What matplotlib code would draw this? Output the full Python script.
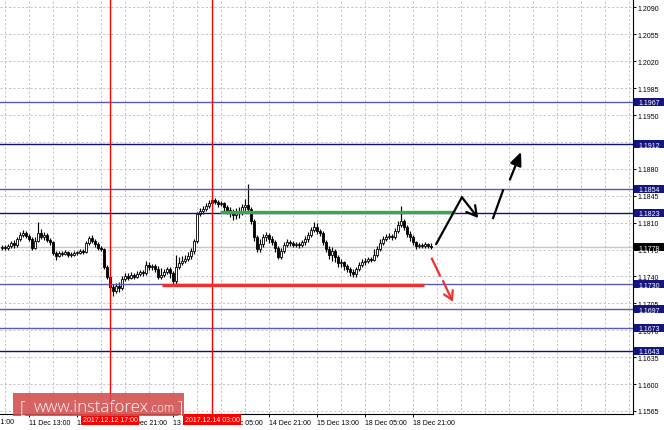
import matplotlib
matplotlib.use("Agg")
import matplotlib.pyplot as plt
from matplotlib.patches import Rectangle
from matplotlib.transforms import blended_transform_factory

plt.rcParams['font.family'] = ['Liberation Sans', 'DejaVu Sans']

# ---------------- data (EURUSD H1) ----------------
opens = [1.1777, 1.1778, 1.1777, 1.1780, 1.1784, 1.1781, 1.1789, 1.1794, 1.1797, 1.1793,
         1.1789, 1.1777, 1.1786, 1.1797, 1.1791, 1.1794, 1.1788, 1.1785, 1.1771, 1.1767,
         1.1771, 1.1769, 1.1772, 1.1768, 1.1768, 1.1771, 1.1771, 1.1773, 1.1772, 1.1784,
         1.1790, 1.1786, 1.1782, 1.1777, 1.1776, 1.1752, 1.1739, 1.1726, 1.1721, 1.1728,
         1.1725, 1.1737, 1.1741, 1.1738, 1.1742, 1.1739, 1.1743, 1.1746, 1.1745, 1.1755,
         1.1752, 1.1754, 1.1750, 1.1739, 1.1742, 1.1746, 1.1750, 1.1745, 1.1734, 1.1752,
         1.1758, 1.1760, 1.1763, 1.1767, 1.1773, 1.1786, 1.1821, 1.1825, 1.1828, 1.1832,
         1.1836, 1.1840, 1.1837, 1.1834, 1.1836, 1.1830, 1.1827, 1.1824, 1.1820, 1.1825,
         1.1823, 1.1830, 1.1833, 1.1828, 1.1812, 1.1791, 1.1776, 1.1782, 1.1791, 1.1794,
         1.1789, 1.1785, 1.1777, 1.1765, 1.1773, 1.1781, 1.1785, 1.1784, 1.1781, 1.1782,
         1.1781, 1.1785, 1.1789, 1.1794, 1.1801, 1.1804, 1.1799, 1.1797, 1.1785, 1.1776,
         1.1768, 1.1773, 1.1765, 1.1758, 1.1759, 1.1754, 1.1750, 1.1746, 1.1743, 1.1750,
         1.1755, 1.1759, 1.1760, 1.1763, 1.1762, 1.1768, 1.1776, 1.1784, 1.1789, 1.1791,
         1.1793, 1.1791, 1.1799, 1.1807, 1.1812, 1.1804, 1.1795, 1.1791, 1.1785, 1.1780,
         1.1781, 1.1780, 1.1782, 1.1780]

highs = [1.1781, 1.1781, 1.1782, 1.1786, 1.1788, 1.1791, 1.1798, 1.1801, 1.1799, 1.1795,
         1.1791, 1.1791, 1.1811, 1.1802, 1.1798, 1.1797, 1.1790, 1.1786, 1.1773, 1.1773,
         1.1773, 1.1775, 1.1773, 1.1772, 1.1773, 1.1773, 1.1776, 1.1776, 1.1786, 1.1793,
         1.1794, 1.1789, 1.1785, 1.1780, 1.1777, 1.1755, 1.1742, 1.1730, 1.1732, 1.1733,
         1.1741, 1.1745, 1.1745, 1.1746, 1.1745, 1.1747, 1.1749, 1.1749, 1.1760, 1.1759,
         1.1756, 1.1756, 1.1754, 1.1751, 1.1750, 1.1752, 1.1752, 1.1747, 1.1768, 1.1765,
         1.1767, 1.1768, 1.1772, 1.1777, 1.1789, 1.1824, 1.1829, 1.1832, 1.1836, 1.1840,
         1.1842, 1.1842, 1.1840, 1.1838, 1.1837, 1.1833, 1.1830, 1.1828, 1.1829, 1.1830,
         1.1834, 1.1841, 1.1860, 1.1830, 1.1815, 1.1794, 1.1789, 1.1795, 1.1798, 1.1797,
         1.1793, 1.1788, 1.1780, 1.1777, 1.1785, 1.1789, 1.1788, 1.1786, 1.1785, 1.1785,
         1.1788, 1.1793, 1.1798, 1.1804, 1.1811, 1.1810, 1.1802, 1.1799, 1.1788, 1.1780,
         1.1778, 1.1776, 1.1768, 1.1763, 1.1760, 1.1756, 1.1752, 1.1750, 1.1752, 1.1759,
         1.1763, 1.1764, 1.1765, 1.1765, 1.1776, 1.1780, 1.1789, 1.1793, 1.1795, 1.1797,
         1.1795, 1.1803, 1.1812, 1.1832, 1.1815, 1.1807, 1.1799, 1.1794, 1.1786, 1.1784,
         1.1784, 1.1785, 1.1784, 1.1784]

lows = [1.1775, 1.1775, 1.1775, 1.1777, 1.1777, 1.1778, 1.1786, 1.1791, 1.1790, 1.1786,
        1.1775, 1.1776, 1.1785, 1.1789, 1.1788, 1.1785, 1.1781, 1.1768, 1.1762, 1.1765,
        1.1767, 1.1768, 1.1765, 1.1765, 1.1767, 1.1768, 1.1769, 1.1769, 1.1771, 1.1781,
        1.1784, 1.1778, 1.1775, 1.1773, 1.1750, 1.1737, 1.1721, 1.1715, 1.1719, 1.1720,
        1.1723, 1.1734, 1.1736, 1.1737, 1.1737, 1.1738, 1.1741, 1.1741, 1.1742, 1.1749,
        1.1749, 1.1746, 1.1737, 1.1737, 1.1739, 1.1743, 1.1738, 1.1730, 1.1728, 1.1750,
        1.1755, 1.1758, 1.1760, 1.1763, 1.1769, 1.1784, 1.1819, 1.1821, 1.1825, 1.1829,
        1.1833, 1.1834, 1.1830, 1.1832, 1.1825, 1.1821, 1.1817, 1.1814, 1.1815, 1.1816,
        1.1820, 1.1825, 1.1825, 1.1808, 1.1786, 1.1772, 1.1772, 1.1778, 1.1786, 1.1784,
        1.1781, 1.1772, 1.1763, 1.1763, 1.1771, 1.1778, 1.1780, 1.1778, 1.1778, 1.1777,
        1.1778, 1.1781, 1.1785, 1.1791, 1.1798, 1.1795, 1.1793, 1.1781, 1.1772, 1.1763,
        1.1760, 1.1759, 1.1752, 1.1752, 1.1749, 1.1746, 1.1741, 1.1739, 1.1739, 1.1747,
        1.1752, 1.1755, 1.1758, 1.1759, 1.1760, 1.1765, 1.1773, 1.1781, 1.1786, 1.1789,
        1.1788, 1.1789, 1.1797, 1.1804, 1.1801, 1.1791, 1.1786, 1.1781, 1.1776, 1.1777,
        1.1777, 1.1777, 1.1777, 1.1776]

closes = [1.1778, 1.1777, 1.1780, 1.1784, 1.1781, 1.1789, 1.1794, 1.1797, 1.1793, 1.1789,
          1.1777, 1.1786, 1.1797, 1.1791, 1.1794, 1.1788, 1.1785, 1.1771, 1.1767, 1.1771,
          1.1769, 1.1772, 1.1768, 1.1768, 1.1771, 1.1771, 1.1773, 1.1772, 1.1784, 1.1790,
          1.1786, 1.1782, 1.1777, 1.1776, 1.1752, 1.1739, 1.1726, 1.1721, 1.1728, 1.1725,
          1.1737, 1.1741, 1.1738, 1.1742, 1.1739, 1.1743, 1.1746, 1.1745, 1.1755, 1.1752,
          1.1754, 1.1750, 1.1739, 1.1742, 1.1746, 1.1750, 1.1745, 1.1734, 1.1752, 1.1758,
          1.1760, 1.1763, 1.1767, 1.1773, 1.1786, 1.1821, 1.1825, 1.1828, 1.1832, 1.1836,
          1.1840, 1.1837, 1.1834, 1.1836, 1.1830, 1.1827, 1.1824, 1.1820, 1.1825, 1.1823,
          1.1830, 1.1833, 1.1828, 1.1812, 1.1791, 1.1776, 1.1782, 1.1791, 1.1794, 1.1789,
          1.1785, 1.1777, 1.1765, 1.1773, 1.1781, 1.1785, 1.1784, 1.1781, 1.1782, 1.1781,
          1.1785, 1.1789, 1.1794, 1.1801, 1.1804, 1.1799, 1.1797, 1.1785, 1.1776, 1.1768,
          1.1773, 1.1765, 1.1758, 1.1759, 1.1754, 1.1750, 1.1746, 1.1743, 1.1750, 1.1755,
          1.1759, 1.1760, 1.1763, 1.1762, 1.1768, 1.1776, 1.1784, 1.1789, 1.1791, 1.1793,
          1.1791, 1.1799, 1.1807, 1.1812, 1.1804, 1.1795, 1.1791, 1.1785, 1.1780, 1.1781,
          1.1780, 1.1782, 1.1780, 1.1778]

time_tick_bars = [-7, 9, 25, 41, 57, 73, 89, 105, 121, 137]
time_tick_labels = ["8 Dec 21:00", "11 Dec 13:00", "12 Dec 05:00", "12 Dec 21:00",
                    "13 Dec 13:00", "14 Dec 05:00", "14 Dec 21:00", "15 Dec 13:00",
                    "18 Dec 05:00", "18 Dec 21:00"]

price_ticks = [1.1565, 1.1600, 1.1635, 1.1670, 1.1705, 1.1740, 1.1775, 1.1810,
               1.1845, 1.1880, 1.1915, 1.1950, 1.1985, 1.2020, 1.2055, 1.2090]

levels = [1.1967, 1.1912, 1.1854, 1.1823, 1.1730, 1.1697, 1.1673, 1.1643]
level_dark = [False, True, False, True, False, False, False, True]
current_price = 1.1778

vline_bars = [36, 70]
vline_labels = ["2017.12.12 17:00", "2017.12.14 03:00"]

green_seg_bars = [72.7, 151.0]
green_seg_price = 1.1824
red_seg_bars = [53.3, 140.7]
red_seg_price = 1.1729

bull_path_bars = [144.7, 153.3, 158.7]
bull_path_prices = [1.1782, 1.1843, 1.1816]
bull2_bars = [163.7, 167.0, 169.3, 173.0]
bull2_prices = [1.1816, 1.1852, 1.1866, 1.1902]
bear_bars = [143.3, 146.0, 147.0, 150.3]
bear_prices = [1.1763, 1.1741, 1.1734, 1.1707]

# ---------------- figure ----------------
W, H = 664, 431
fig = plt.figure(figsize=(W / 100, H / 100), dpi=100)
fig.patch.set_facecolor('white')
AX_W, AX_H = 633, 415
ax = fig.add_axes([0, (H - AX_H) / H, AX_W / W, AX_H / H])
ax.set_facecolor('white')

y0, y1 = 1.1561, 1.2101
x0, x1 = -0.667, 210.33
px_y = (y1 - y0) / AX_H
px_x = (x1 - x0) / AX_W

# axes / grid (ticks first, limits after so they are not expanded)
ax.yaxis.tick_right()
ax.set_yticks(price_ticks)
ax.set_yticklabels([f"{p:.4f}" for p in price_ticks])
ax.set_xticks(time_tick_bars)
ax.set_xticklabels(time_tick_labels)
for lab in ax.get_xticklabels():
    lab.set_horizontalalignment('left')
minor_x = [b for b in range(-7, 211, 8) if b not in time_tick_bars]
ax.set_xticks(minor_x, minor=True)
ax.set_xlim(x0, x1)
ax.set_ylim(y0, y1)
ax.grid(True, which='both', color='#c4c4c4', linestyle=(0, (2.2, 2.2)), linewidth=0.7, zorder=0)
ax.set_axisbelow(True)
ax.tick_params(axis='both', which='major', length=2.3, width=0.7, colors='black',
               labelsize=5.0, pad=1.0)
ax.tick_params(axis='x', which='major', pad=1.6)
ax.tick_params(axis='x', which='minor', length=0)
for s in ['top', 'left']:
    ax.spines[s].set_visible(False)
for s in ['right', 'bottom']:
    ax.spines[s].set_linewidth(0.8)
    ax.spines[s].set_color('black')

# label for the off-view first tick (cut by the figure edge)
tr_x = blended_transform_factory(ax.transData, ax.transAxes)
ax.text(4.0, -4.5 / AX_H, time_tick_labels[0], transform=tr_x,
        fontsize=5.0, va='top', ha='right', clip_on=False)

# bid line
ax.axhline(current_price, color='#c8c8c8', lw=1.0, zorder=1)

# candles
n = len(closes)
idx = list(range(n))
ax.vlines(idx, lows, highs, color='black', lw=0.85, zorder=3)
bw = 0.72
for i in idx:
    o, c = opens[i], closes[i]
    lo = min(o, c)
    h = max(abs(c - o), px_y * 0.9)
    face = 'white' if c >= o else 'black'
    ax.add_patch(Rectangle((i - bw / 2, lo), bw, h, facecolor=face,
                           edgecolor='black', lw=0.6, zorder=3.5))

# level lines + right labels
navy_dark = '#10107a'
navy_light = '#5a5ab4'
tr_y = blended_transform_factory(ax.transAxes, ax.transData)
box_h = 8 * px_y
for lv, dark in zip(levels, level_dark):
    ax.axhline(lv, color=navy_dark if dark else navy_light, lw=1.0, zorder=4)
    ax.add_patch(Rectangle((1 + 1 / AX_W, lv - box_h / 2), 30 / AX_W, box_h, transform=tr_y,
                           facecolor='#15157e', edgecolor='none', clip_on=False, zorder=10))
    ax.text(1 + 5 / AX_W, lv, f"{lv:.4f}", transform=tr_y, color='white', fontsize=5.0,
            va='center_baseline', ha='left', clip_on=False, zorder=11)
ax.add_patch(Rectangle((1 + 1 / AX_W, current_price - box_h / 2), 30 / AX_W, box_h, transform=tr_y,
                       facecolor='black', edgecolor='none', clip_on=False, zorder=10))
ax.text(1 + 5 / AX_W, current_price, f"{current_price:.4f}", transform=tr_y, color='white',
        fontsize=5.0, va='center_baseline', ha='left', clip_on=False, zorder=11)

# vertical lines + time boxes
for b, lab in zip(vline_bars, vline_labels):
    ax.axvline(b, color='#ff0000', lw=1.0, zorder=4)
    bwid = 58 * px_x
    ax.add_patch(Rectangle((b - bwid / 2, -11 / AX_H), bwid, 11 / AX_H, transform=tr_x,
                           facecolor='#ff0000', edgecolor='none', clip_on=False, zorder=10))
    ax.text(b, -5.8 / AX_H, lab, transform=tr_x, color='white', fontsize=5.0,
            va='center', ha='center', clip_on=False, zorder=11)

# support / resistance segments
ax.plot(green_seg_bars, [green_seg_price] * 2, color='#3aa84a', lw=2.4,
        solid_capstyle='butt', zorder=5)
ax.plot(red_seg_bars, [red_seg_price] * 2, color='#f03030', lw=2.4,
        solid_capstyle='butt', zorder=5)

# forecast arrows
ax.plot(bull_path_bars[:2], bull_path_prices[:2], color='black', lw=1.6, zorder=6,
        solid_capstyle='round')
ax.annotate('', xy=(bull_path_bars[2], bull_path_prices[2]),
            xytext=(bull_path_bars[1], bull_path_prices[1]),
            arrowprops=dict(arrowstyle='->,head_length=0.7,head_width=0.4', color='black',
                            lw=1.6, shrinkA=0, shrinkB=0), zorder=6)
ax.plot(bull2_bars[:2], bull2_prices[:2], color='black', lw=1.6, zorder=6)
ax.annotate('', xy=(bull2_bars[3], bull2_prices[3]),
            xytext=(bull2_bars[2], bull2_prices[2]),
            arrowprops=dict(arrowstyle='-|>,head_length=0.8,head_width=0.35', color='black',
                            lw=1.6, shrinkA=0, shrinkB=0), zorder=6)
ax.plot(bear_bars[:2], bear_prices[:2], color='#f03030', lw=1.6, zorder=6)
ax.annotate('', xy=(bear_bars[3], bear_prices[3]),
            xytext=(bear_bars[2], bear_prices[2]),
            arrowprops=dict(arrowstyle='->,head_length=0.6,head_width=0.35', color='#f03030',
                            lw=1.6, shrinkA=0, shrinkB=0), zorder=6)

# watermark
fig.add_artist(Rectangle((13 / W, 1 - 417 / H), 171 / W, 23 / H, transform=fig.transFigure,
                         facecolor='#d24d4d', edgecolor='none', alpha=0.88, zorder=20))
wm_font = ['Open Sans', 'DejaVu Sans']
base_y = 1 - 412 / H
fig.text(20 / W, base_y, "[", color='white', fontsize=12.2, family=wm_font,
         fontweight='light', va='baseline', ha='left', zorder=21)
t_www = fig.text(34 / W, base_y, "www.instaforex", color='white', fontsize=12.2,
                 family=wm_font, fontweight='light', va='baseline', ha='left', zorder=21)
renderer = fig.canvas.get_renderer()
bb = t_www.get_window_extent(renderer=renderer)
t_com = fig.text(bb.x1 / W + 0.5 / W, base_y, ".com", color='white', fontsize=8.5,
                 family=wm_font, fontweight='light', va='baseline', ha='left', zorder=21)
bb2 = t_com.get_window_extent(renderer=renderer)
fig.text(bb2.x1 / W + 3 / W, base_y, "]", color='white', fontsize=12.2, family=wm_font,
         fontweight='light', va='baseline', ha='left', zorder=21)

fig.savefig('out.png', dpi=100)
